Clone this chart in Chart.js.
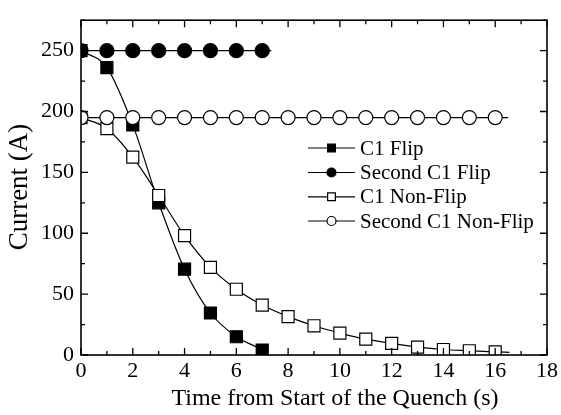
<!DOCTYPE html>
<html><head><meta charset="utf-8">
<script src="https://cdn.jsdelivr.net/npm/chart.js@4/dist/chart.umd.min.js"></script>
<style>html,body{margin:0;padding:0;background:#fff}#wrap{width:561px;height:415px}</style>
</head><body><div id="wrap"><canvas id="c" width="561" height="415"></canvas></div>
<script>
// Data
const flipX = [0, 1, 2, 3, 4, 5, 6, 7, 7.2];
const flipY = [250, 236, 189, 125, 70.5, 34.5, 15, 4, 0.5];
const secondFlipX = [0, 1, 2, 3, 4, 5, 6, 7, 7.35];
const secondFlipY = [250, 250, 250, 250, 250, 250, 250, 250, 250];
const nonFlipX = [0, 1, 2, 3, 4, 5, 6, 7, 8, 9, 10, 11, 12, 13, 14, 15, 16, 16.55];
const nonFlipY = [195, 186, 162.5, 131, 98, 72, 54, 41, 31.5, 24, 18, 13, 9.5, 6.5, 4.5, 3.5, 2.5, 2.2];
const secondNonFlipX = [0, 1, 2, 3, 4, 5, 6, 7, 8, 9, 10, 11, 12, 13, 14, 15, 16, 16.5];
const secondNonFlipY = [195, 195, 195, 195, 195, 195, 195, 195, 195, 195, 195, 195, 195, 195, 195, 195, 195, 195];
const seriesNames = ['C1 Flip', 'Second C1 Flip', 'C1 Non-Flip', 'Second C1 Non-Flip'];
const xTicks = [0, 2, 4, 6, 8, 10, 12, 14, 16, 18];
const yTicks = [0, 50, 100, 150, 200, 250];
const xTitle = 'Time from Start of the Quench (s)';
const yTitle = 'Current (A)';

const FONT = '"Liberation Serif", "Times New Roman", serif';
const pts = (xs, ys) => xs.map((x, i) => ({x, y: ys[i]}));
const styles = [
  {style: 'rect', fill: '#000', r: 8.5, lr: 5.5, order: 3},
  {style: 'circle', fill: '#000', r: 7, lr: 4.5, order: 1},
  {style: 'rect', fill: '#fff', r: 8.5, lr: 5.5, order: 2},
  {style: 'circle', fill: '#fff', r: 7, lr: 4.5, order: 0}
];
const allX = [flipX, secondFlipX, nonFlipX, secondNonFlipX];
const allY = [flipY, secondFlipY, nonFlipY, secondNonFlipY];
const datasets = allX.map((xs, k) => ({
  label: seriesNames[k],
  data: pts(xs, allY[k]),
  borderColor: '#000',
  borderWidth: 1.2,
  backgroundColor: styles[k].fill,
  pointBackgroundColor: styles[k].fill,
  pointBorderColor: '#000',
  pointBorderWidth: 1.2,
  pointStyle: styles[k].style,
  pointRadius: xs.map((_, i) => i === xs.length - 1 ? 0 : styles[k].r),
  pointHoverRadius: xs.map((_, i) => i === xs.length - 1 ? 0 : styles[k].r),
  cubicInterpolationMode: 'monotone',
  tension: 0.4,
  clip: 0,
  order: styles[k].order
}));

const clipPlugin = {
  id: 'areaClip',
  beforeDatasetsDraw(chart) {
    const ctx = chart.ctx, a = chart.chartArea;
    ctx.save();
    ctx.beginPath();
    ctx.rect(a.left, a.top, a.right - a.left, a.bottom - a.top);
    ctx.clip();
  },
  afterDatasetsDraw(chart) { chart.ctx.restore(); }
};

const framePlugin = {
  id: 'frame',
  afterDraw(chart) {
    const ctx = chart.ctx, a = chart.chartArea;
    const xs = chart.scales.x, ys = chart.scales.y;
    ctx.save();
    ctx.strokeStyle = '#000';
    ctx.lineWidth = 1.6;
    ctx.strokeRect(a.left, a.top, a.right - a.left, a.bottom - a.top);
    ctx.lineWidth = 1.3;
    ctx.beginPath();
    for (let v = xs.min; v <= xs.max; v += 1) {
      const p = xs.getPixelForValue(v);
      const len = (v % 2 === 0) ? 7 : 4;
      ctx.moveTo(p, a.bottom); ctx.lineTo(p, a.bottom - len);
      ctx.moveTo(p, a.top); ctx.lineTo(p, a.top + len);
    }
    for (let v = ys.min; v <= ys.max; v += 25) {
      const p = ys.getPixelForValue(v);
      const len = (v % 50 === 0) ? 7 : 4;
      ctx.moveTo(a.left, p); ctx.lineTo(a.left + len, p);
      ctx.moveTo(a.right, p); ctx.lineTo(a.right - len, p);
    }
    ctx.stroke();
    // axis titles
    ctx.fillStyle = '#000';
    ctx.textAlign = 'center';
    ctx.textBaseline = 'middle';
    ctx.font = '24px ' + FONT;
    ctx.fillText(xTitle, 335, 399);
    ctx.save();
    ctx.translate(20, 187);
    ctx.rotate(-Math.PI / 2);
    ctx.font = '27px ' + FONT;
    ctx.fillText(yTitle, 0, 0);
    ctx.restore();
    // legend inside the plot
    const x0 = 308, x1 = 355, tx = 360, rows = [148, 172.5, 196.8, 221];
    ctx.font = '21px ' + FONT;
    ctx.textBaseline = 'middle';
    ctx.textAlign = 'left';
    seriesNames.forEach((name, k) => {
      const y = rows[k];
      ctx.strokeStyle = '#000'; ctx.lineWidth = 1.2;
      ctx.beginPath(); ctx.moveTo(x0, y); ctx.lineTo(x1, y); ctx.stroke();
      const cx = (x0 + x1) / 2, r = styles[k].lr;
      ctx.fillStyle = styles[k].fill;
      ctx.beginPath();
      if (styles[k].style === 'rect') {
        const s = r * Math.SQRT1_2;
        ctx.rect(cx - s, y - s, 2 * s, 2 * s);
      } else {
        ctx.arc(cx, y, r, 0, Math.PI * 2);
      }
      ctx.fill(); ctx.stroke();
      ctx.fillStyle = '#000';
      ctx.fillText(name, tx, y + 1);
    });
    ctx.restore();
  }
};

new Chart(document.getElementById('c'), {
  type: 'line',
  data: {datasets},
  plugins: [clipPlugin, framePlugin],
  options: {
    responsive: false,
    animation: false,
    devicePixelRatio: 1,
    layout: {padding: {top: 8, right: 11, left: 0, bottom: 0}},
    plugins: {legend: {display: false}, tooltip: {enabled: false}},
    scales: {
      x: {
        type: 'linear', min: 0, max: 18,
        afterFit(s) { s.height = 60; },
        afterBuildTicks(s) { s.ticks = xTicks.map(v => ({value: v})); },
        grid: {display: false, drawTicks: false},
        border: {display: false},
        ticks: {color: '#000', padding: 3, font: {family: FONT, size: 22}, maxRotation: 0, autoSkip: false},
        title: {display: false}
      },
      y: {
        type: 'linear', min: 0, max: 275,
        afterFit(s) { s.width = 81; },
        afterBuildTicks(s) { s.ticks = yTicks.map(v => ({value: v})); },
        grid: {display: false, drawTicks: false},
        border: {display: false},
        ticks: {color: '#000', padding: 7, font: {family: FONT, size: 22}, autoSkip: false},
        title: {display: false}
      }
    }
  }
});
</script></body></html>
